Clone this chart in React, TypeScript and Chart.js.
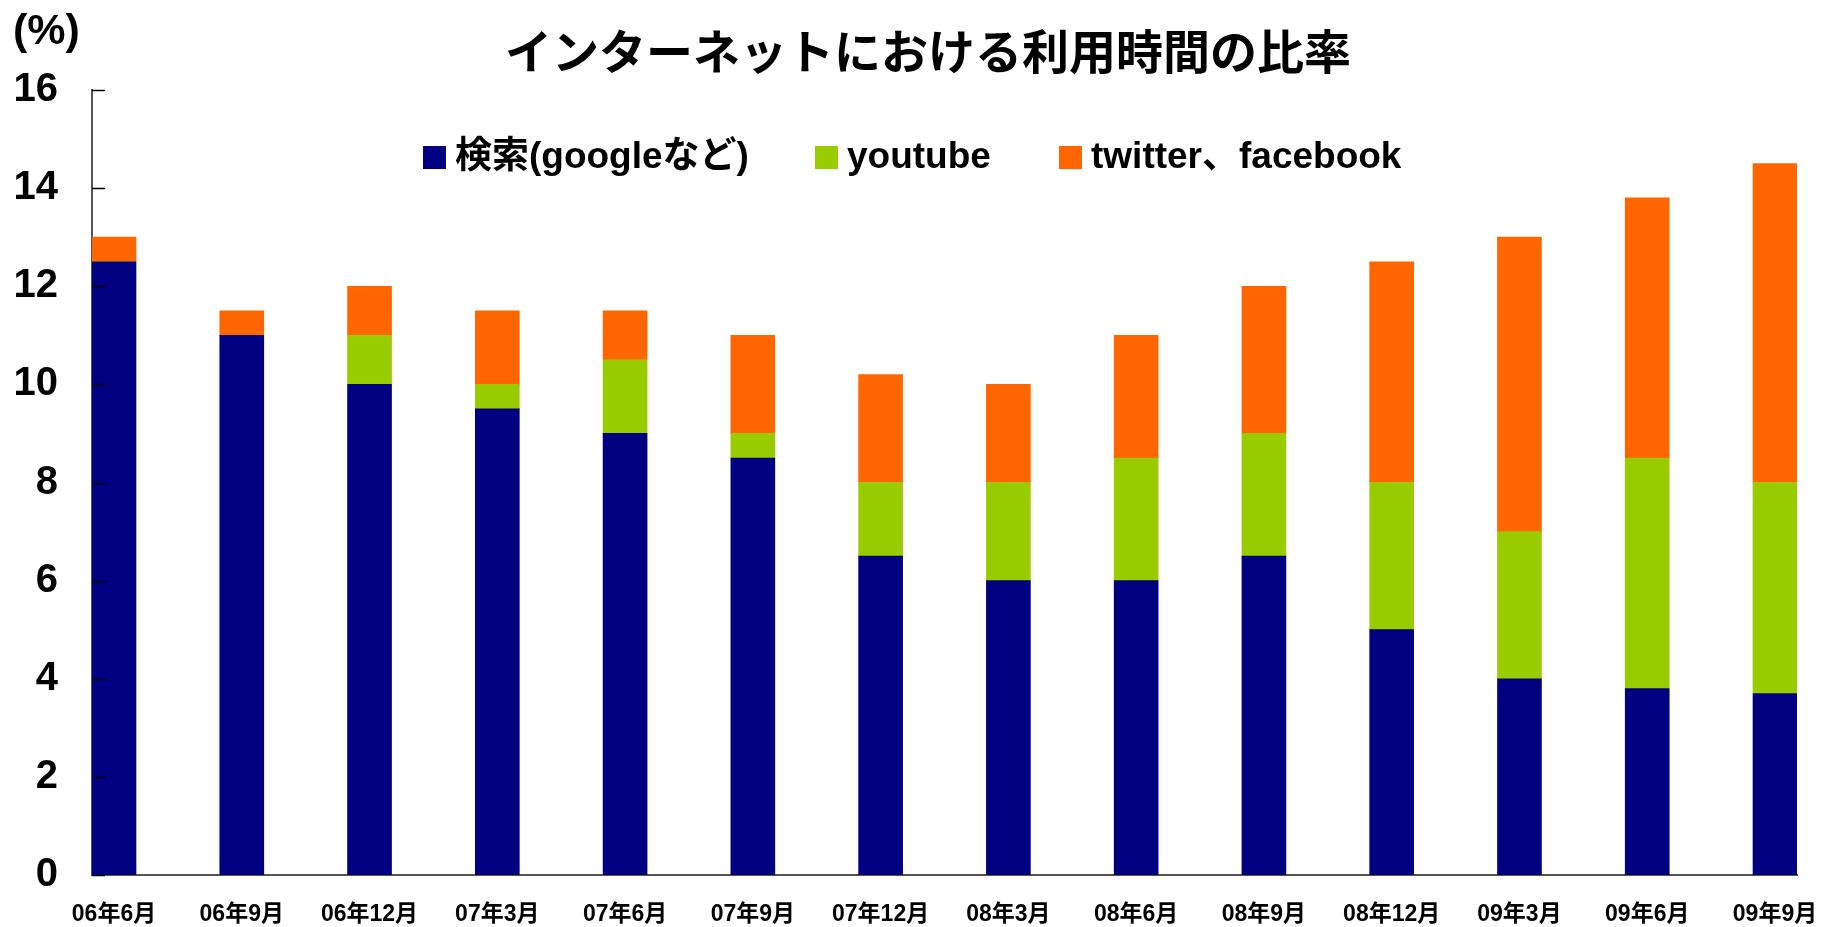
import React, { useEffect, useRef } from 'react';
import { Chart, registerables } from 'chart.js';

Chart.register(...registerables);

const categories = ['06年6月', '06年9月', '06年12月', '07年3月', '07年6月', '07年9月', '07年12月', '08年3月', '08年6月', '08年9月', '08年12月', '09年3月', '09年6月', '09年9月'];
const searchValues = [12.5, 11, 10, 9.5, 9, 8.5, 6.5, 6, 6, 6.5, 5, 4, 3.8, 3.7];
const youtubeValues = [0, 0, 1, 0.5, 1.5, 0.5, 1.5, 2, 2.5, 2.5, 3, 3, 4.7, 4.3];
const snsValues = [0.5, 0.5, 1, 1.5, 1, 2, 2.2, 2, 2.5, 3, 4.5, 6, 5.3, 6.5];
const yTicks = [0, 2, 4, 6, 8, 10, 12, 14, 16];
const seriesNames = ['検索(googleなど)', 'youtube', 'twitter、facebook'];
const seriesColors = ['#000080', '#99CC00', '#FF6600'];
const titleText = 'インターネットにおける利用時間の比率';
const unitLabel = '(%)';

const legendBoxX = [423, 815, 1059];

const decorPlugin = {
  id: 'decor',
  afterDraw(chart: any) {
    const ctx = chart.ctx;
    const ys = chart.scales.y;
    const area = chart.chartArea;
    ctx.save();
    // inward tick marks on the y axis
    ctx.strokeStyle = '#000';
    ctx.lineWidth = 1.5;
    yTicks.forEach((v) => {
      const py = Math.round(ys.getPixelForValue(v)) + 0.5;
      ctx.beginPath();
      ctx.moveTo(area.left, py);
      ctx.lineTo(area.left + 13, py);
      ctx.stroke();
    });
    // unit label
    ctx.fillStyle = '#000';
    ctx.font = "bold 43px 'Liberation Sans', Arial, sans-serif";
    ctx.textAlign = 'left';
    ctx.textBaseline = 'middle';
    ctx.fillText(unitLabel, 13, 32);
    // title
    ctx.font = "bold 47px 'Noto Sans CJK JP', sans-serif";
    ctx.textAlign = 'center';
    ctx.fillText(titleText, 928, 51);
    // legend
    ctx.textAlign = 'left';
    ctx.font = "bold 37px 'Liberation Sans', 'Noto Sans CJK JP', sans-serif";
    chart.data.datasets.forEach((ds: any, i: number) => {
      const bx = legendBoxX[i];
      ctx.fillStyle = ds.backgroundColor;
      ctx.fillRect(bx, 146, 23, 23);
      ctx.fillStyle = '#000';
      ctx.fillText(ds.label, bx + 32, 158);
    });
    ctx.restore();
  },
};

export default function App() {
  const canvasRef = useRef<HTMLCanvasElement | null>(null);

  useEffect(() => {
    if (!canvasRef.current) return;
    const seriesValues = [searchValues, youtubeValues, snsValues];
    const half = 22 / ((1705 - 44) / 13);
    const chart = new Chart(canvasRef.current, {
      type: 'bar',
      data: {
        datasets: seriesValues.map((vals, si) => ({
          label: seriesNames[si],
          data: vals.map((v, i) => ({ x: i, y: v })),
          backgroundColor: seriesColors[si],
          borderWidth: 0,
          barThickness: 44,
          stack: 's',
        })),
      },
      options: {
        responsive: true,
        maintainAspectRatio: false,
        animation: false,
        events: [],
        layout: { padding: { left: 0, right: 34, top: 90, bottom: 0 } },
        plugins: {
          legend: { display: false },
          title: { display: false },
          tooltip: { enabled: false },
        },
        scales: {
          x: {
            type: 'linear',
            min: -half,
            max: 13 + half,
            bounds: 'data',
            offset: false,
            stacked: true,
            z: 1,
            grid: { display: false, drawTicks: false, offset: false },
            border: { display: true, color: '#555', width: 2 },
            afterBuildTicks: (s: any) => {
              s.ticks = categories.map((_, i) => ({ value: i }));
            },
            afterFit: (s: any) => {
              s.height = 52;
              s.paddingLeft = 0;
              s.paddingRight = 0;
            },
            ticks: {
              autoSkip: false,
              maxRotation: 0,
              minRotation: 0,
              padding: 26,
              color: '#000',
              font: { family: "'Liberation Sans', 'Noto Sans CJK JP', sans-serif", size: 23, weight: 'bold' },
              callback: (v: any) => categories[v] ?? '',
            },
          },
          y: {
            type: 'linear',
            min: 0,
            max: 16,
            stacked: true,
            z: 1,
            grid: { display: false, drawTicks: false },
            border: { display: true, color: '#555', width: 2 },
            afterFit: (s: any) => {
              s.width = 92;
              s.paddingTop = 0;
              s.paddingBottom = 0;
            },
            ticks: {
              stepSize: 2,
              padding: 34,
              color: '#000',
              font: { family: "'Liberation Sans', Arial, sans-serif", size: 40, weight: 'bold' },
            },
          },
        },
      },
      plugins: [decorPlugin],
    } as any);
    return () => chart.destroy();
  }, []);

  return (
    <div style={{ position: 'fixed', left: 0, top: 0, width: 1831, height: 927, background: '#fff' }}>
      <canvas ref={canvasRef} />
    </div>
  );
}
